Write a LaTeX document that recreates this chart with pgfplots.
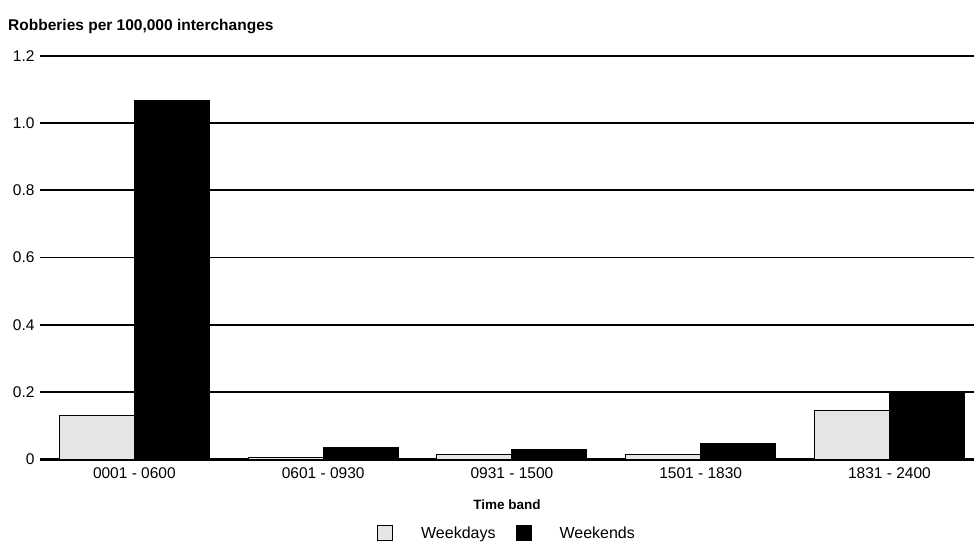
\documentclass[border=0pt]{standalone}
\usepackage{pgfplots}
\pgfplotsset{compat=1.18}
\usepackage{fontspec}
\setmainfont{Liberation Sans}
\begin{document}
\begin{tikzpicture}
\path[use as bounding box] (-40pt,-84pt) rectangle (934pt,459pt);
\begin{axis}[
  at={(0pt,0pt)}, anchor=south west,
  scale only axis, width=934pt, height=403pt,
  xmin=-0.5, xmax=4.448, ymin=0, ymax=1.2,
  ytick={0,0.2,0.4,0.6,0.8,1.0,1.2},
  yticklabels={0,0.2,0.4,0.6,0.8,1.0,1.2},
  xtick={0,1,2,3,4},
  xticklabels={0001 - 0600,0601 - 0930,0931 - 1500,1501 - 1830,1831 - 2400},
  major tick length=0pt,
  /pgf/number format/assume math mode=true,
  tick label style={font=\fontsize{15.5}{18}\selectfont},
  yticklabel style={xshift=-2pt},
  xticklabel style={yshift=-5pt},
  ymajorgrids, grid style={black, line width=1.8pt},
  axis x line*=bottom, axis y line*=left,
  x axis line style={line width=3pt, -},
  y axis line style={draw=none},
  xlabel={Time band},
  xlabel style={font=\bfseries\fontsize{13.5}{16}\selectfont, at={(axis description cs:0.5,0)}, anchor=center, yshift=-46pt},
  legend columns=2,
  legend style={at={(axis description cs:0.5,0)}, anchor=center, yshift=-74pt, draw=none, fill=none,
    font=\fontsize{16}{19}\selectfont,
    /tikz/every odd column/.append style={column sep=26pt},
    /tikz/every even column/.append style={column sep=18pt}},
  legend image code/.code={\draw[#1, line width=1pt] (0pt,-7.5pt) rectangle (15pt,7.5pt);},
]
\addplot[ybar, bar width=75pt, bar shift=-37.5pt, fill=gray!20, draw=black, line width=1pt]
  coordinates {(0,0.129) (1,0.004) (2,0.014) (3,0.014) (4,0.145)};
\addlegendentry{Weekdays}
\addplot[ybar, bar width=75pt, bar shift=37.5pt, fill=black, draw=black, line width=1pt]
  coordinates {(0,1.068) (1,0.033) (2,0.027) (3,0.046) (4,0.200)};
\addlegendentry{Weekends}
\end{axis}
\node[anchor=west, font=\bfseries\fontsize{15.5}{18}\selectfont, inner sep=0pt] at (-32pt,432pt) {Robberies per 100,000 interchanges};
\end{tikzpicture}
\end{document}
